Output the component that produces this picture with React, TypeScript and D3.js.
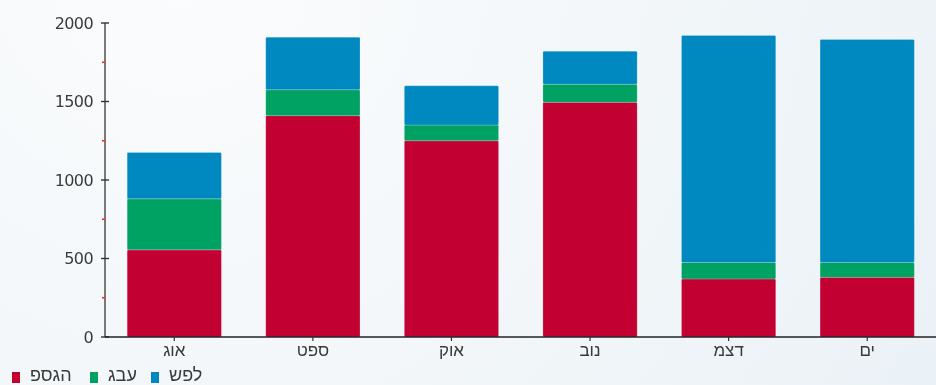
import React, {useEffect, useRef} from 'react';
import * as d3 from 'd3';

const months = ['אוג', 'ספט', 'אוק', 'נוב', 'דצמ', 'ים'];
const peak = [555, 1410, 1250, 1495, 370, 380];
const hill = [325, 165, 100, 115, 105, 95];
const low = [295, 335, 250, 210, 1445, 1420];
const seriesKeys = ['peak', 'hill', 'low'];
const seriesNames = ['פסגה', 'גבע', 'שפל'];
const yTicks = [0, 500, 1000, 1500, 2000];
const yMinor = [250, 750, 1250, 1750];

const W = 936;
const H = 385;
const FONT = '"DejaVu Sans", "Liberation Sans", sans-serif';
const HEB = '"Liberation Sans", "DejaVu Sans", sans-serif';

const draw = (node) => {
  d3.select(node).selectAll('*').remove();
  const svg = d3.select(node).attr('width', W).attr('height', H);

  // background
  const defs = svg.append('defs');
  const grad = defs
    .append('radialGradient')
    .attr('id', 'bg')
    .attr('gradientUnits', 'userSpaceOnUse')
    .attr('cx', 180)
    .attr('cy', -40)
    .attr('r', 900);
  grad.append('stop').attr('offset', '0').attr('stop-color', '#fbfcfd');
  grad.append('stop').attr('offset', '0.3').attr('stop-color', '#f6f9fb');
  grad.append('stop').attr('offset', '1').attr('stop-color', '#eaf1f6');
  svg.append('rect').attr('width', W).attr('height', H).attr('fill', 'url(#bg)');

  const margin = {top: 23, left: 105, bottom: 48};
  const plotBottom = H - margin.bottom;

  const data = months.map((m, i) => ({
    month: m,
    peak: peak[i],
    hill: hill[i],
    low: low[i],
  }));

  const x = d3
    .scaleBand()
    .domain(months)
    .range([margin.left, W + 0.5])
    .paddingInner(0.32)
    .paddingOuter(0.16);

  const y = d3.scaleLinear().domain([0, 2000]).range([plotBottom, margin.top]);

  const z = d3.scaleOrdinal().domain(seriesKeys).range(['#c20031', '#00a263', '#0088c0']);

  // bars
  svg
    .append('g')
    .selectAll('g')
    .data(d3.stack().keys(seriesKeys)(data))
    .enter()
    .append('g')
    .attr('fill', d => z(d.key))
    .selectAll('rect')
    .data(d => d)
    .enter()
    .append('rect')
    .attr('x', d => x(d.data.month))
    .attr('y', d => y(d[1]))
    .attr('width', x.bandwidth())
    .attr('height', d => y(d[0]) - y(d[1]))
    .attr('rx', 1.2)
    .attr('stroke', '#ffffff')
    .attr('stroke-opacity', 0.25)
    .attr('stroke-width', 0.8);

  // y axis
  const ya = svg.append('g').attr('transform', `translate(${margin.left},0)`);
  ya.append('line')
    .attr('y1', y(2000))
    .attr('y2', y(0))
    .attr('stroke', '#444')
    .attr('stroke-width', 1.4);
  ya.selectAll('.major')
    .data(yTicks)
    .enter()
    .append('line')
    .attr('x1', -4)
    .attr('x2', 4)
    .attr('y1', d => y(d))
    .attr('y2', d => y(d))
    .attr('stroke', '#333')
    .attr('stroke-width', 1.4);
  ya.selectAll('.minor')
    .data(yMinor)
    .enter()
    .append('line')
    .attr('x1', -3)
    .attr('x2', 0)
    .attr('y1', d => y(d))
    .attr('y2', d => y(d))
    .attr('stroke', '#ff2a2a')
    .attr('stroke-width', 1.6);
  ya.selectAll('text')
    .data(yTicks)
    .enter()
    .append('text')
    .attr('x', -12)
    .attr('y', d => y(d))
    .attr('dy', '0.36em')
    .attr('text-anchor', 'end')
    .attr('font-family', FONT)
    .attr('font-size', 16)
    .attr('letter-spacing', -0.6)
    .attr('fill', '#3a3a3a')
    .text(d => d);

  // x axis
  const xa = svg.append('g');
  xa.append('line')
    .attr('x1', margin.left)
    .attr('x2', W)
    .attr('y1', plotBottom)
    .attr('y2', plotBottom)
    .attr('stroke', '#222')
    .attr('stroke-width', 1.4);
  xa.selectAll('.tick')
    .data(months)
    .enter()
    .append('line')
    .attr('x1', d => x(d) + x.bandwidth() / 2)
    .attr('x2', d => x(d) + x.bandwidth() / 2)
    .attr('y1', plotBottom)
    .attr('y2', plotBottom + 4)
    .attr('stroke', '#333')
    .attr('stroke-width', 1.2);
  xa.selectAll('text')
    .data(months)
    .enter()
    .append('text')
    .attr('x', d => x(d) + x.bandwidth() / 2)
    .attr('y', plotBottom + 19)
    .attr('text-anchor', 'middle')
    .attr('font-family', HEB)
    .attr('font-size', 17)
    .attr('fill', '#3a3a3a')
    .text(d => d);

  // legend - drawn left to right like the original
  const legendX = [12, 90, 151];
  const lg = svg.append('g').attr('transform', `translate(0, ${H - 4})`);
  seriesKeys.forEach((k, i) => {
    const item = lg.append('g').attr('transform', `translate(${legendX[i]},0)`);
    item
      .append('rect')
      .attr('x', 0)
      .attr('y', -9)
      .attr('width', 8)
      .attr('height', 11)
      .attr('fill', z(k));
    item
      .append('text')
      .attr('x', 18)
      .attr('y', 0)
      .style('direction', 'ltr')
      .style('unicode-bidi', 'bidi-override')
      .attr('font-family', HEB)
      .attr('font-size', 18)
      .attr('fill', '#3a3a3a')
      .text(seriesNames[i]);
  });
};

export default function App() {
  const ref = useRef(null);
  useEffect(() => {
    draw(ref.current);
  }, []);
  return (
    <div style={{position: 'fixed', left: 0, top: 0, width: W, height: H}}>
      <svg ref={ref} style={{display: 'block'}} />
    </div>
  );
}
